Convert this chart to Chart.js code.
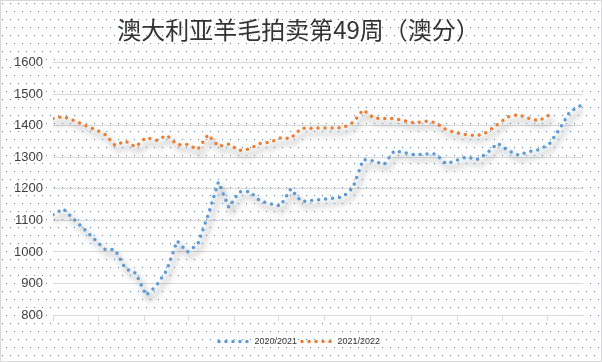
<!DOCTYPE html>
<html lang="zh">
<head>
<meta charset="UTF-8">
<title>澳大利亚羊毛拍卖第49周</title>
<script src="https://cdn.jsdelivr.net/npm/chart.js"></script>
<style>
    html, body { margin: 0; padding: 0; background: #fff; }
    #wrap { width: 602px; height: 362px; position: relative; }
</style>
</head>
<body>
<div id="wrap"><canvas id="chart"></canvas></div>
<script>
// sale weeks of the season (week 1 = start of July)
const weeks = [1,2,3,4,5,6,7,8,9,10,11,12,13,14,15,16,17,18,19,20,21,22,23,24,25,26,
               27,28,29,30,31,32,33,34,35,36,37,38,39,40,41,42,43,44,45,46,47,48,49,50,51,52];

// 2020/2021 season, cents; null = christmas recess
const season2021 = [1118,1137,1104,1073,1041,1009,1007,947,933,862,893,942,1035,1000,1024,1117,
                    1222,1141,1191,1192,1162,1153,1146,1200,1160,null,null,null,1174,1203,1293,1289,
                    1277,1321,1315,1308,1311,1311,1280,1290,1302,1293,1314,1345,1322,1307,1318,1324,
                    1342,1390,1445,1464];

// 2021/2022 season up to week 49
const season2122 = [1423,1430,1417,1403,1389,1374,1338,1352,1333,1363,1354,1370,1340,1341,1325,1372,
                    1335,1342,1322,1327,1344,1348,1362,1360,1392,null,null,null,1394,1410,1451,1425,
                    1423,1423,1416,1409,1415,1410,1388,1378,1372,1369,1380,1405,1428,1436,1424,1416,
                    1434];

const seriesNames = ['2020/2021', '2021/2022'];
const seriesColors = ['#5b9bd5', '#ed7d31'];
const yTicks = [800, 900, 1000, 1100, 1200, 1300, 1400, 1500, 1600];
// first day of each month, counted in days from 1 July
const monthStarts = [0, 31, 62, 92, 123, 153, 184, 215, 243, 274, 304, 335];

function toPoints(vals) {
    return vals.map((v, i) => ({ x: weeks[i], y: v }));
}

// dotted background + thin frame
const tile = document.createElement('canvas');
tile.width = 8; tile.height = 16;
const tctx = tile.getContext('2d');
tctx.fillStyle = '#ffffff';
tctx.fillRect(0, 0, 8, 16);
tctx.fillStyle = '#5f86b0';
tctx.fillRect(2, 3, 1, 1);
tctx.fillRect(6, 11, 1, 1);

const backdrop = {
    id: 'backdrop',
    beforeDraw(chart) {
        const ctx = chart.ctx;
        ctx.save();
        ctx.fillStyle = ctx.createPattern(tile, 'repeat');
        ctx.fillRect(0, 0, chart.width, chart.height);
        ctx.strokeStyle = '#d9d9d9';
        ctx.lineWidth = 1;
        ctx.strokeRect(0.5, 0.5, chart.width - 1, chart.height - 1);
        ctx.restore();
    }
};

// soft drop shadow under the lines
const lineShadow = {
    id: 'lineShadow',
    beforeDatasetsDraw(chart) {
        const ctx = chart.ctx;
        ctx.save();
        ctx.shadowColor = 'rgba(0,0,0,0.6)';
        ctx.shadowBlur = 6;
        ctx.shadowOffsetX = 3;
        ctx.shadowOffsetY = 5;
    },
    afterDatasetsDraw(chart) {
        chart.ctx.restore();
    }
};

// the legend boxes are left empty by chart.js, fill them with a dotted sample
const legendDots = {
    id: 'legendDots',
    afterDraw(chart) {
        const lg = chart.legend;
        if (!lg || !lg.legendHitBoxes) return;
        const ctx = chart.ctx;
        ctx.save();
        lg.legendHitBoxes.forEach((box, i) => {
            const y = box.top + box.height / 2;
            ctx.strokeStyle = seriesColors[i];
            ctx.lineWidth = 3.5;
            ctx.lineCap = 'round';
            ctx.setLineDash([0, 7]);
            ctx.beginPath();
            ctx.moveTo(box.left + 2, y);
            ctx.lineTo(box.left + 33, y);
            ctx.stroke();
        });
        ctx.restore();
    }
};

const dotted = { borderDash: [0, 7], borderCapStyle: 'round', borderWidth: 3.5, pointRadius: 0, tension: 0, spanGaps: true };

new Chart(document.getElementById('chart'), {
    type: 'line',
    data: {
        datasets: [
            Object.assign({ label: seriesNames[0], data: toPoints(season2021), borderColor: seriesColors[0], backgroundColor: seriesColors[0] }, dotted),
            Object.assign({ label: seriesNames[1], data: toPoints(season2122), borderColor: seriesColors[1], backgroundColor: seriesColors[1] }, dotted)
        ]
    },
    options: {
        responsive: true,
        maintainAspectRatio: false,
        animation: false,
        devicePixelRatio: 1,
        layout: { padding: { left: 14, right: 19, top: 0, bottom: 6 } },
        plugins: {
            tooltip: { enabled: false },
            title: {
                display: true,
                text: '澳大利亚羊毛拍卖第49周（澳分）',
                color: '#333333',
                font: { family: '"Noto Sans CJK SC", sans-serif', size: 24, weight: 'normal' },
                padding: { top: 15, bottom: 19 }
            },
            legend: {
                position: 'bottom',
                labels: {
                    boxWidth: 33,
                    boxHeight: 4,
                    padding: 3,
                    color: '#333333',
                    font: { family: '"Liberation Sans", Arial, sans-serif', size: 9 },
                    generateLabels(chart) {
                        return chart.data.datasets.map((ds, i) => ({
                            text: ds.label,
                            datasetIndex: i,
                            fillStyle: 'rgba(0,0,0,0)',
                            strokeStyle: 'rgba(0,0,0,0)',
                            lineWidth: 0,
                            fontColor: '#333333',
                            hidden: false
                        }));
                    }
                }
            }
        },
        scales: {
            x: {
                type: 'linear',
                min: 1,
                max: 52.26,
                afterBuildTicks(scale) {
                    scale.ticks = monthStarts.map(d => ({ value: 1 + d / 7 }));
                },
                afterFit(scale) { scale.height = 19; },
                ticks: { display: false },
                grid: { display: true, drawOnChartArea: false, drawTicks: true, tickLength: 6, color: '#d9d9d9' },
                border: { display: true, color: '#d9d9d9' }
            },
            y: {
                min: yTicks[0],
                max: yTicks[yTicks.length - 1],
                afterBuildTicks(scale) {
                    scale.ticks = yTicks.map(v => ({ value: v }));
                },
                afterFit(scale) { scale.width = 39; },
                ticks: {
                    padding: 10,
                    color: '#404040',
                    font: { family: '"Liberation Sans", Arial, sans-serif', size: 13 },
                    callback: v => String(v)
                },
                grid: { color: '#d9d9d9', drawTicks: false },
                border: { display: false }
            }
        }
    },
    plugins: [backdrop, lineShadow, legendDots]
});
</script>
</body>
</html>
